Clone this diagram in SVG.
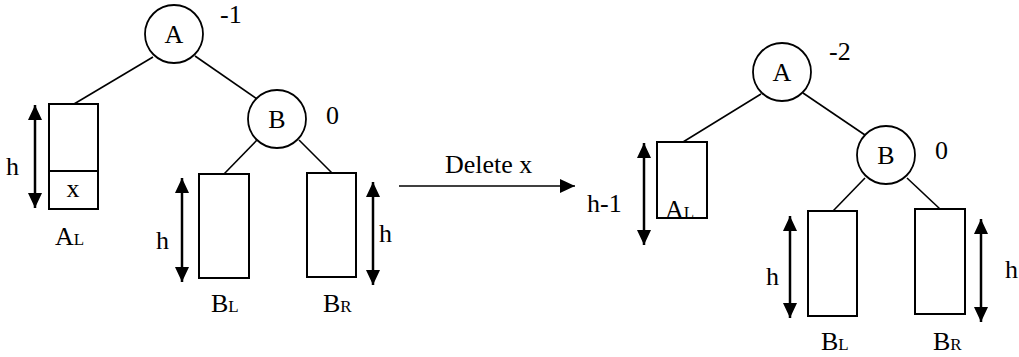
<svg xmlns="http://www.w3.org/2000/svg" width="1019" height="357" viewBox="0 0 1019 357">
<style>
.n{fill:#fff;stroke:#000;stroke-width:1.8}
.b{fill:#fff;stroke:#000;stroke-width:2}
.e{stroke:#000;stroke-width:1.6;fill:none}
.d{stroke:#000;stroke-width:2.5;fill:none;marker-start:url(#ah);marker-end:url(#ah)}
.t{font-family:"Liberation Serif","Times New Roman",serif;font-size:26px;fill:#000}
.s{font-size:17px}
</style>
<defs>
<marker id="ah" markerUnits="userSpaceOnUse" markerWidth="16" markerHeight="15" refX="15" refY="7" orient="auto-start-reverse" viewBox="0 0 16 15">
<path d="M0,0 L15,7 L0,14 z" fill="#000"/>
</marker>
</defs>
<g id="connectors">
<line class="e" x1="153" y1="57" x2="74" y2="104"/>
<line class="e" x1="195" y1="56" x2="257" y2="99"/>
<line class="e" x1="257" y1="140" x2="224" y2="174"/>
<line class="e" x1="299" y1="140" x2="332" y2="173"/>
<line class="e" x1="761" y1="94" x2="683" y2="142"/>
<line class="e" x1="803" y1="93" x2="865" y2="135"/>
<line class="e" x1="865" y1="178" x2="833" y2="211"/>
<line class="e" x1="907" y1="178" x2="940" y2="209"/>
<line class="e" x1="399" y1="186" x2="575" y2="186" stroke-width="2.5" marker-end="url(#ah)"/>
<text class="t" x="445" y="173">Delete x</text>
</g>
<g id="left-A">
<circle class="n" cx="174" cy="34" r="29"/>
<text class="t" x="174" y="43" text-anchor="middle">A</text>
<text class="t" x="220" y="23">-1</text>
</g>
<g id="left-B">
<circle class="n" cx="277" cy="119" r="29"/>
<text class="t" x="277" y="128" text-anchor="middle">B</text>
<text class="t" x="326" y="124">0</text>
</g>
<g id="left-AL">
<rect class="b" x="49" y="104" width="49" height="105"/>
<line class="b" x1="49" y1="171" x2="98" y2="171"/>
<text class="t" x="73" y="197" text-anchor="middle">x</text>
<line class="d" x1="35" y1="105" x2="35" y2="208"/>
<text class="t" x="6" y="175">h</text>
<text class="t" x="55" y="245">A<tspan class="s">L</tspan></text>
</g>
<g id="left-BL">
<rect class="b" x="199" y="174" width="50" height="104"/>
<line class="d" x1="182" y1="178" x2="182" y2="282"/>
<text class="t" x="156" y="249">h</text>
<text class="t" x="211" y="312">B<tspan class="s">L</tspan></text>
</g>
<g id="left-BR">
<rect class="b" x="307" y="173" width="49" height="104"/>
<line class="d" x1="373" y1="182" x2="373" y2="285"/>
<text class="t" x="379" y="242">h</text>
<text class="t" x="323" y="312">B<tspan class="s">R</tspan></text>
</g>
<g id="right-A">
<circle class="n" cx="782" cy="72" r="29"/>
<text class="t" x="782" y="81" text-anchor="middle">A</text>
<text class="t" x="829" y="60">-2</text>
</g>
<g id="right-B">
<circle class="n" cx="886" cy="155" r="29"/>
<text class="t" x="886" y="164" text-anchor="middle">B</text>
<text class="t" x="935" y="159">0</text>
</g>
<g id="right-AL">
<rect class="b" x="657" y="142" width="50" height="76"/>
<line class="d" x1="644" y1="143" x2="644" y2="245"/>
<text class="t" x="587" y="212">h-1</text>
<text class="t" x="665" y="218">A<tspan class="s">L</tspan></text>
</g>
<g id="right-BL">
<rect class="b" x="808" y="211" width="49" height="105"/>
<line class="d" x1="790" y1="216" x2="790" y2="318"/>
<text class="t" x="766" y="285">h</text>
<text class="t" x="821" y="350">B<tspan class="s">L</tspan></text>
</g>
<g id="right-BR">
<rect class="b" x="915" y="209" width="50" height="105"/>
<line class="d" x1="981" y1="219" x2="981" y2="322"/>
<text class="t" x="1005" y="278">h</text>
<text class="t" x="933" y="350">B<tspan class="s">R</tspan></text>
</g>
</svg>
